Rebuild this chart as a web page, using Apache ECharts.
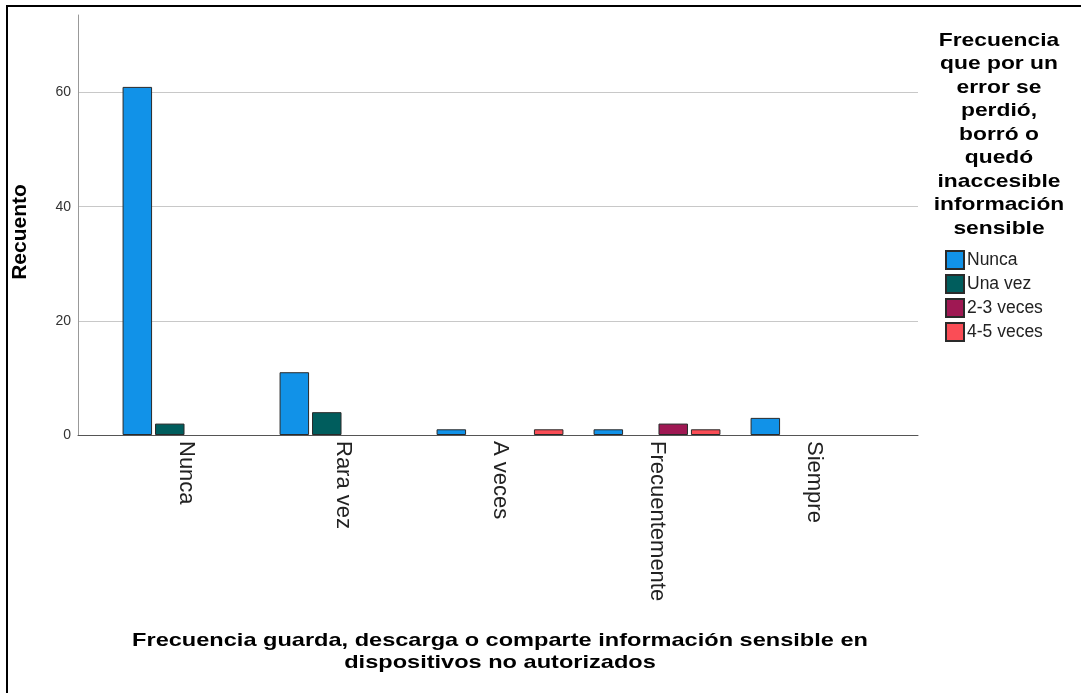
<!DOCTYPE html>
<html>
<head>
<meta charset="utf-8">
<script src="https://cdn.jsdelivr.net/npm/echarts@6/dist/echarts.min.js"></script>
<style>
  html, body { margin: 0; padding: 0; background: #fff; }
  #chart { width: 1081px; height: 693px; }
  #frame { position: absolute; left: 6px; top: 5px; width: 1100px; height: 700px;
           border-left: 2px solid #000; border-top: 2px solid #000; pointer-events: none; }
</style>
</head>
<body>
<div id="chart"></div>
<div id="frame"></div>
<script>
// Categories: how often sensitive data is saved/downloaded/shared on unauthorised devices
const categories = ['Nunca', 'Rara vez', 'A veces', 'Frecuentemente', 'Siempre'];
// Legend groups: how often sensitive data was lost, deleted or became inaccessible
const seriesNames = ['Nunca', 'Una vez', '2-3 veces', '4-5 veces'];
const nuncaValues    = [61, 11, 1, 1, 3];
const unaVezValues   = [2, 4, null, null, null];
const dosTresValues  = [null, null, null, 2, null];
const cuatroCincoValues = [null, null, 1, 1, null];
const yTicks = [0, 20, 40, 60];
const colors = ['#1192e8', '#005d5d', '#9f1853', '#fa4d56'];

const seriesValues = [nuncaValues, unaVezValues, dosTresValues, cuatroCincoValues];

const font = 'Liberation Sans, Arial, sans-serif';
const yMax = 73.6;

const xTitle = 'Frecuencia guarda, descarga o comparte información sensible en\ndispositivos no autorizados';
const yTitle = 'Recuento';
const legendTitle = 'Frecuencia\nque por un\nerror se\nperdió,\nborró o\nquedó\ninaccesible\ninformación\nsensible';

const chart = echarts.init(document.getElementById('chart'), null, { renderer: 'canvas' });

chart.setOption({
  animation: false,
  backgroundColor: '#fff',
  textStyle: { fontFamily: font },
  grid: [
    // frame grid: axis lines and horizontal gridlines
    { left: 78, right: 163, top: 15, bottom: 258 },
    // bar grid: categories laid out inside the frame
    { left: 107.5, right: 188.5, top: 15, bottom: 258 }
  ],
  xAxis: [
    {
      gridIndex: 0, type: 'category', data: [''],
      axisLine: { show: true, lineStyle: { color: '#555', width: 1 } },
      axisTick: { show: false }, axisLabel: { show: false }
    },
    {
      gridIndex: 1, type: 'category', data: categories,
      axisLine: { show: false }, axisTick: { show: false },
      axisLabel: { rotate: -90, margin: 6, fontSize: 22, color: '#222', fontFamily: font }
    }
  ],
  yAxis: [
    {
      gridIndex: 0, type: 'value', min: 0, max: yMax, interval: 20,
      axisLine: { show: true, lineStyle: { color: '#999', width: 1 } },
      axisTick: { show: false },
      axisLabel: {
        margin: 7, fontSize: 14, color: '#333', fontFamily: font,
        showMaxLabel: false,
        formatter: v => (yTicks.indexOf(v) >= 0 ? String(v) : '')
      },
      splitLine: { show: true, showMinLine: false, showMaxLine: false, lineStyle: { color: '#c8c8c8', width: 1 } }
    },
    {
      gridIndex: 1, type: 'value', min: 0, max: yMax, interval: 20, show: false,
      splitLine: { show: false }
    }
  ],
  legend: {
    orient: 'vertical', left: 945, top: 250, padding: 0,
    itemWidth: 18, itemHeight: 18, itemGap: 4,
    icon: 'rect',
    textStyle: { fontFamily: font, fontSize: 17.5, lineHeight: 18, color: '#222', padding: [0, 0, 0, -2] },
    data: seriesNames
  },
  graphic: [
    {
      type: 'text', x: 999, y: 29, scaleX: 1.2,
      style: {
        text: legendTitle, textAlign: 'center', textVerticalAlign: 'top',
        font: 'bold 19px ' + font, lineHeight: 23.5, fill: '#000'
      }
    },
    {
      type: 'text', x: 500, y: 630, scaleX: 1.24,
      style: {
        text: xTitle, textAlign: 'center', textVerticalAlign: 'top',
        font: 'bold 19px ' + font, lineHeight: 22, fill: '#000'
      }
    },
    {
      type: 'text', x: 20, y: 232, rotation: Math.PI / 2,
      style: {
        text: yTitle, textAlign: 'center', textVerticalAlign: 'middle',
        font: 'bold 21px ' + font, fill: '#000'
      }
    }
  ],
  series: seriesNames.map((name, i) => ({
    name: name,
    type: 'bar',
    xAxisIndex: 1, yAxisIndex: 1,
    data: seriesValues[i],
    barWidth: 29.5,
    barGap: '10%',
    itemStyle: { color: colors[i], borderColor: '#2a2a2a', borderWidth: 1 }
  }))
});
</script>
</body>
</html>
